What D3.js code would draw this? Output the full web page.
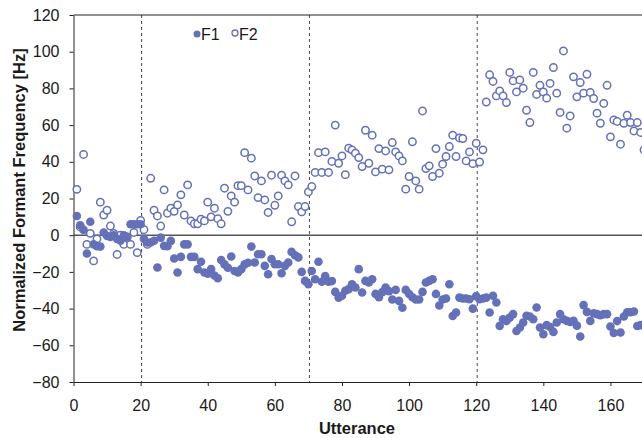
<!DOCTYPE html>
<html>
<head>
<meta charset="utf-8">
<script src="https://cdn.jsdelivr.net/npm/d3@7"></script>
<style>
  html, body { margin: 0; padding: 0; background: #fff; }
  svg { display: block; font-family: "Liberation Sans", Arial, sans-serif; }
</style>
</head>
<body>
<svg id="chart" width="642" height="438"></svg>
<script>
// F1 / F2 normalized formant values, one per utterance (1..169/170)
const f1Values = [
  10.5, 5.4, 2.9, -10, 7.3, -5, -6, -6.2, 1.5, -0.4,
  -1, 0, -2, -3, 0, -1, 6, 6, 6, 6,
  -2, -4, -4, -3, -17.6, -1.3, -5.8, -6, -3.1, -12.7,
  -20.3, -11.8, -5, -5, -11.8, -11.8, -18.5, -14.5, -20.3, -21,
  -18.5, -22, -23.5, -13.5, -15.9, -17.7, -11.6, -19.5, -20.3, -18.5,
  -15.9, -15, -6.2, -14.9, -10.4, -10.4, -16.7, -21.3, -13, -15.8,
  -15.8, -20.7, -16.7, -14.9, -9.1, -10.9, -12.1, -20, -24.9, -26.7,
  -19.5, -24, -14.5, -25.4, -22.2, -25.4, -25, -30.9, -34, -33,
  -30.3, -29.4, -26.7, -28.5, -18.5, -31.2, -24.9, -25.8, -24, -32,
  -33.8, -31, -28.5, -30.5, -35, -29.8, -35.8, -39.5, -29.8, -32,
  -33.8, -35, -35, -30.9, -25.8, -24.9, -24, -32, -38.3, -35,
  -34.5, -26.7, -44, -42.1, -34, -34.5, -34.5, -34.9, -40, -33.2,
  -34.9, -34.5, -34, -42.1, -33, -36.7, -49.4, -45.8, -46.8, -44.9,
  -43, -52.2, -50.3, -47.6, -43.9, -44.3, -45.8, -39.4, -50.3, -54,
  -49, -50, -52.7, -47.6, -43, -45.8, -46.7, -47.3, -46.7, -49.3,
  -55.2, -38.1, -41.8, -46.7, -42.5, -43, -43.6, -43, -43, -49.8,
  -53.3, -46.8, -53, -44.3, -42, -42, -41.6, -49.5, -49
]

const f2Values = [
  25, 4.5, 44, -5, 1, -14, -2, 18, 11, 13.6,
  5, 1, -10.5, 0, -5, -1, -5, 1.5, -9.5, 8,
  3, -5, 31, 13.6, 10.5, 5, 24.7, 12, 14.7, 13,
  16.5, 22, 11, 27.4, 7.8, 6.2, 6.2, 8.7, 7.8, 18,
  10, 14.7, 9, 6.2, 25.6, 13, 21.4, 18, 27, 27,
  45, 24.7, 42, 32.3, 20.5, 29.6, 19.2, 12.4, 32.7, 16.3,
  21.4, 32.7, 29.6, 27.4, 7.3, 32.3, 15.6, 12.7, 15.6, 23.6,
  26.5, 34.2, 45, 34.2, 45.4, 34.2, 40.2, 60, 39.2, 43.2,
  33, 47.4, 46.5, 44.7, 42.3, 37.4, 57.2, 39.2, 54.5, 34.5,
  47.2, 36, 45.9, 35.6, 50.5, 45.4, 43.2, 40.5, 25.1, 32,
  50.9, 29.6, 25.1, 67.7, 36.3, 37.8, 32, 47.2, 33.8, 38.7,
  42.9, 48.3, 54.5, 42.9, 53, 52.7, 40.5, 45.4, 39, 50.1,
  39.9, 46.5, 72.6, 87.4, 83.8, 75.9, 78.6, 75.9, 72.3, 88.7,
  84.1, 78.1, 84.6, 80.1, 68.1, 61.4, 88.7, 76.7, 81.7, 78.1,
  74.7, 82.7, 91.4, 77.4, 66.9, 100.4, 58.3, 65, 86.3, 75.4,
  83.2, 77.4, 87.7, 77.8, 74.5, 66.5, 61, 71.8, 81.7, 53.6,
  62.8, 62, 49.6, 61, 65.4, 61.4, 56.8, 61.4, 56, 46.5
]

// boundaries between blocks of utterances
const dividers = [20.3, 70.3, 120.3]
const xTicks = [0, 20, 40, 60, 80, 100, 120, 140, 160]
const yTicks = [-80, -60, -40, -20, 0, 20, 40, 60, 80, 100, 120]

const markColor = "#6470b8"
const axisColor = "#222"
const textColor = "#1a1a1a"

const svg = d3.select("#chart")

const x = d3.scaleLinear().domain([0, 170]).range([73.5, 644])
const y = d3.scaleLinear().domain([-80, 120]).range([382, 15])

// Dashed separators
svg.append("g")
  .selectAll("line")
  .data(dividers)
  .enter()
  .append("line")
  .attr("x1", d => x(d))
  .attr("x2", d => x(d))
  .attr("y1", y(120))
  .attr("y2", y(-80))
  .style("stroke", "#444")
  .style("stroke-width", 1)
  .style("stroke-dasharray", "3,3")

// Zero line
svg.append("line")
  .attr("x1", x(0))
  .attr("x2", 642)
  .attr("y1", y(0))
  .attr("y2", y(0))
  .style("stroke", "#555")
  .style("stroke-width", 1.5)

// Top border
svg.append("line")
  .attr("x1", x(0))
  .attr("x2", 642)
  .attr("y1", y(120))
  .attr("y2", y(120))
  .style("stroke", axisColor)
  .style("stroke-width", 1)

// Axes
svg.append("g")
  .attr("transform", `translate(0, ${y(-80)})`)
  .call(d3.axisBottom(x).tickValues(xTicks).tickSize(4).tickSizeOuter(0).tickPadding(14))

svg.append("g")
  .attr("transform", `translate(${x(0)}, 0)`)
  .call(d3.axisLeft(y).tickValues(yTicks).tickSize(4).tickSizeOuter(0).tickPadding(10))

svg.selectAll(".domain").style("stroke", axisColor).style("stroke-width", 1)
svg.selectAll(".tick line").style("stroke", axisColor)
svg.selectAll(".tick text")
  .style("font-size", "16px")
  .style("fill", textColor)
  .style("font-family", "'Liberation Sans', Arial, sans-serif")

// F2 (open)
svg.append("g")
  .selectAll("circle")
  .data(f2Values)
  .enter()
  .append("circle")
  .attr("cx", (d, i) => x(i + 1))
  .attr("cy", d => y(d))
  .attr("r", 3.7)
  .style("fill", "#fff")
  .style("stroke", markColor)
  .style("stroke-width", 1.5)

// F1 (filled)
svg.append("g")
  .selectAll("circle")
  .data(f1Values)
  .enter()
  .append("circle")
  .attr("cx", (d, i) => x(i + 1))
  .attr("cy", d => y(d))
  .attr("r", 4.3)
  .style("fill", markColor)

// Legend
const legend = svg.append("g").attr("transform", "translate(197, 34)")
legend.append("circle").attr("cx", 0).attr("cy", 0).attr("r", 3.5).style("fill", markColor)
legend.append("text").attr("x", 4).attr("y", 6).text("F1")
  .style("font-size", "16px").style("fill", textColor)
legend.append("circle").attr("cx", 38).attr("cy", -1).attr("r", 3).style("fill", "#fff")
  .style("stroke", markColor).style("stroke-width", 1.3)
legend.append("text").attr("x", 42).attr("y", 6).text("F2")
  .style("font-size", "16px").style("fill", textColor)

// Axis titles
svg.append("text")
  .attr("x", 357)
  .attr("y", 434)
  .attr("text-anchor", "middle")
  .style("font-size", "16.5px")
  .style("font-weight", "bold")
  .style("fill", textColor)
  .text("Utterance")

svg.append("text")
  .attr("transform", "translate(25, 190) rotate(-90)")
  .attr("text-anchor", "middle")
  .style("font-size", "16.5px")
  .style("font-weight", "bold")
  .style("fill", textColor)
  .text("Normalized Formant Frequency [Hz]")
</script>
</body>
</html>
